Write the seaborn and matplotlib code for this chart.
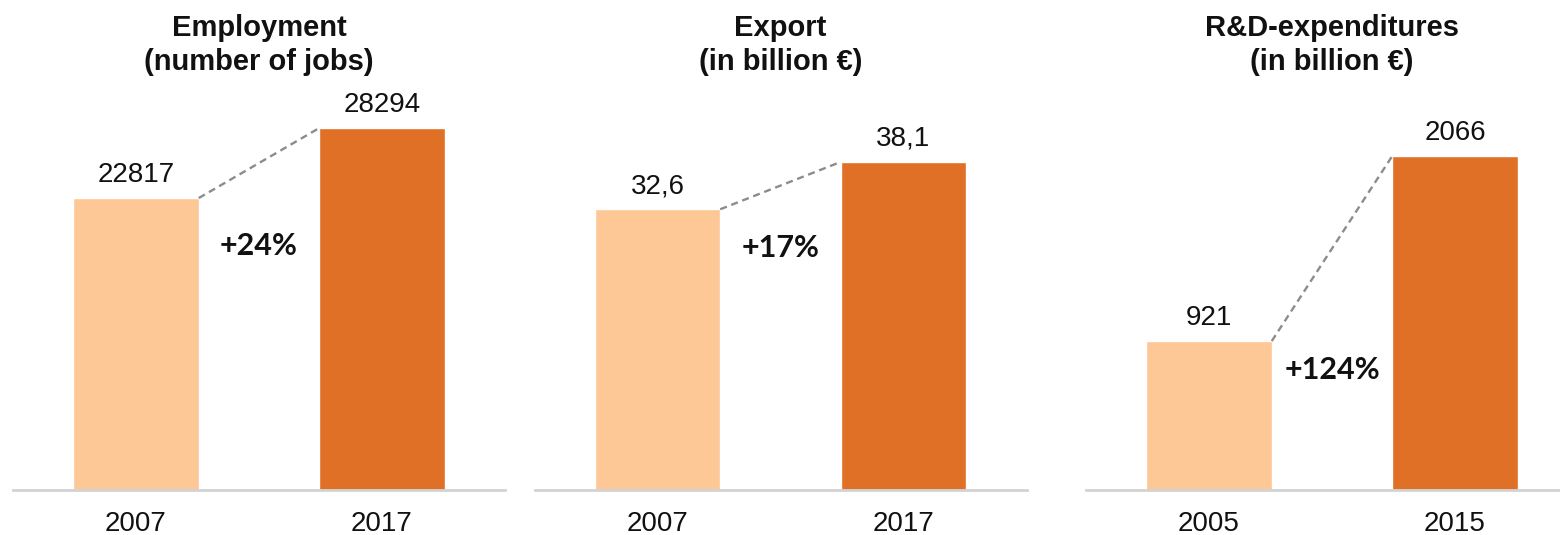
import matplotlib
matplotlib.use("Agg")
import matplotlib.pyplot as plt
import seaborn as sns
import pandas as pd

# data
titles = ["Employment\n(number of jobs)", "Export\n(in billion €)", "R&D-expenditures\n(in billion €)"]
years = [["2007", "2017"], ["2007", "2017"], ["2005", "2015"]]
values = [[22817, 28294], [32.6, 38.1], [921, 2066]]
value_labels = [["22817", "28294"], ["32,6", "38,1"], ["921", "2066"]]
growth = ["+24%", "+17%", "+124%"]

light = "#FDC896"
dark = "#E07025"

sns.set_style("white")
plt.rcParams["font.family"] = ["Liberation Sans", "DejaVu Sans"]

fig = plt.figure(figsize=(15.6, 5.35), dpi=100)

# layout (pixels) -> figure fractions
lefts = [13, 534.5, 1086]
ax_w = 492 / 1560
ax_b = 45 / 535
ax_h = 490 / 535
ytops = [38300, 56.9, 3031]
growth_y = [0.498, 0.494, 0.245]

for i in range(3):
    ax = fig.add_axes([lefts[i] / 1560, ax_b, ax_w, ax_h])
    df = pd.DataFrame({"year": years[i], "value": values[i]})
    sns.barplot(data=df, x="year", y="value", hue="year",
                palette=[light, dark], width=0.51, legend=False, ax=ax,
                saturation=1)
    ax.set_xlim(-0.5, 1.5)
    ax.set_ylim(0, ytops[i])
    ax.set_xlabel("")
    ax.set_ylabel("")
    ax.set_yticks([])
    ax.tick_params(axis="x", length=0, pad=15, labelsize=20, colors="#111111")
    sns.despine(ax=ax, left=True, top=True, right=True)
    ax.spines["bottom"].set_color("#D3D3D3")
    ax.spines["bottom"].set_linewidth(2)
    ax.patch.set_alpha(0)

    # value labels above bars
    for j, (v, lab) in enumerate(zip(values[i], value_labels[i])):
        ax.annotate(lab, (j, v), xytext=(0, 11.5), textcoords="offset points",
                    ha="center", va="baseline", fontsize=20, color="#111111")

    # dashed connector from top-right of first bar to top-left of second
    hw = 0.51 / 2
    ax.plot([0 + hw, 1 - hw], [values[i][0], values[i][1]],
            ls=(0, (3, 2)), color="#8C8C8C", lw=1.7)

    ax.text(0.5, growth_y[i], growth[i], transform=ax.transAxes,
            ha="center", va="center", fontsize=22, fontweight="bold",
            family=["Lato", "DejaVu Sans"], color="#111111")

    ax.text(0.5, 0.908, titles[i], transform=ax.transAxes, ha="center",
            va="center", fontsize=21, fontweight="bold", linespacing=1.3,
            color="#111111")

fig.savefig("out.png", dpi=100)
